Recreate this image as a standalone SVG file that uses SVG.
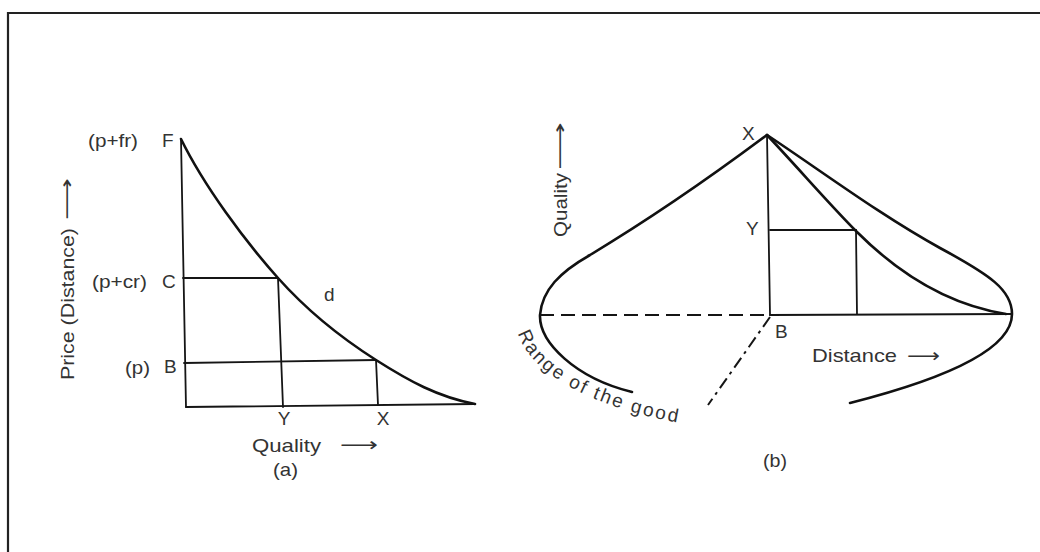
<svg xmlns="http://www.w3.org/2000/svg" width="1040" height="552" viewBox="0 0 1040 552">
<style>
  .t { font-family: "Liberation Sans", Arial, sans-serif; font-size: 19px; fill: #333; }
  .ar { font-family: "DejaVu Sans", sans-serif; font-size: 19px; fill: #333; }
  .ln { stroke: #151515; stroke-width: 1.8; fill: none; stroke-linecap: round; }
  .cv { stroke: #111; stroke-width: 2.6; fill: none; stroke-linecap: round; stroke-linejoin: round; }
  .dash { stroke: #151515; stroke-width: 2; fill: none; stroke-dasharray: 14 7; }
  .dashdot { stroke: #151515; stroke-width: 2; fill: none; stroke-dasharray: 12 5 3 5; }
</style>
<rect x="0" y="0" width="1040" height="552" fill="#ffffff"/>
<g id="frame">
  <path d="M8,552 L8,13 L1040,13" stroke="#222" stroke-width="2.2" fill="none"/>
</g>

<g id="diagram-a">
  <g id="axes-a">
    <line class="ln" x1="181" y1="139" x2="186" y2="407"/>
    <line class="ln" x1="186" y1="407" x2="475" y2="404"/>
  </g>
  <g id="connectors-a">
    <line class="ln" x1="183" y1="278" x2="278" y2="278"/>
    <line class="ln" x1="278" y1="278" x2="283" y2="407"/>
    <line class="ln" x1="184" y1="363" x2="376" y2="360"/>
    <line class="ln" x1="376" y1="360" x2="378" y2="405"/>
  </g>
  <g id="curve-d">
    <path class="cv" d="M181,139 C204,186 245,241 278,278 C311,315 343,339 376,360 C409,381 438,397 475,404"/>
  </g>
  <g id="labels-a">
    <text class="t" x="88" y="147" textLength="50" lengthAdjust="spacingAndGlyphs">(p+fr)</text>
    <text class="t" x="162" y="147">F</text>
    <text class="t" x="92" y="288" textLength="55" lengthAdjust="spacingAndGlyphs">(p+cr)</text>
    <text class="t" x="162" y="288">C</text>
    <text class="t" x="125" y="374" textLength="25" lengthAdjust="spacingAndGlyphs">(p)</text>
    <text class="t" x="164" y="373">B</text>
    <text class="t" x="324" y="301">d</text>
    <text class="t" x="284" y="425" text-anchor="middle">Y</text>
    <text class="t" x="383" y="425" text-anchor="middle">X</text>
    <text class="t" x="252" y="452" textLength="69" lengthAdjust="spacingAndGlyphs">Quality</text>
    <text class="ar" x="340" y="451" textLength="38" lengthAdjust="spacingAndGlyphs">⟶</text>
    <text class="t" x="273" y="476" textLength="25" lengthAdjust="spacingAndGlyphs">(a)</text>
    <text class="t" transform="translate(74,380) rotate(-90)" x="0" y="0" textLength="152" lengthAdjust="spacingAndGlyphs">Price (Distance)</text>
    <text class="ar" transform="translate(74,220) rotate(-90)" x="0" y="-1" textLength="42" lengthAdjust="spacingAndGlyphs">⟶</text>
  </g>
</g>

<g id="diagram-b">
  <g id="range-curve">
    <path class="cv" d="M767,135 C700,185 640,225 590,255 C560,272 542,290 540,315 C539,342 575,378 632,392"/>
    <path class="cv" d="M767,135 C820,170 880,215 940,248 C990,275 1012,290 1012,314 C1012,345 960,375 850,403"/>
  </g>
  <g id="connectors-b">
    <line class="ln" x1="767" y1="135" x2="770" y2="315"/>
    <line class="dash" x1="540" y1="315" x2="770" y2="315"/>
    <line class="ln" x1="770" y1="315" x2="1012" y2="314"/>
    <line class="ln" x1="770" y1="230" x2="856" y2="230"/>
    <line class="ln" x1="856" y1="230" x2="857" y2="314"/>
    <path class="dashdot" d="M770,317 L708,405"/>
  </g>
  <g id="inner-curve">
    <path class="cv" d="M767,135 C800,170 830,205 857,232 C900,275 950,305 1006,314"/>
  </g>
  <g id="labels-b">
    <text class="t" x="742" y="140">X</text>
    <text class="t" x="746" y="235">Y</text>
    <text class="t" x="775" y="338">B</text>
    <text class="t" x="812" y="362" textLength="85" lengthAdjust="spacingAndGlyphs">Distance</text>
    <text class="ar" x="907" y="362" textLength="33" lengthAdjust="spacingAndGlyphs">⟶</text>
    <text class="t" x="763" y="467" textLength="24" lengthAdjust="spacingAndGlyphs">(b)</text>
    <text class="t" transform="translate(567,237) rotate(-90)" x="0" y="0" textLength="64" lengthAdjust="spacingAndGlyphs">Quality</text>
    <text class="ar" transform="translate(567,170) rotate(-90)" x="0" y="-1" textLength="48" lengthAdjust="spacingAndGlyphs">⟶</text>
    <path id="rangePath" d="M518,333 C528,370 589,409 692,425" fill="none"/>
    <text class="t" font-size="20" letter-spacing="2.1"><textPath href="#rangePath">Range of the good</textPath></text>
  </g>
</g>
</svg>
